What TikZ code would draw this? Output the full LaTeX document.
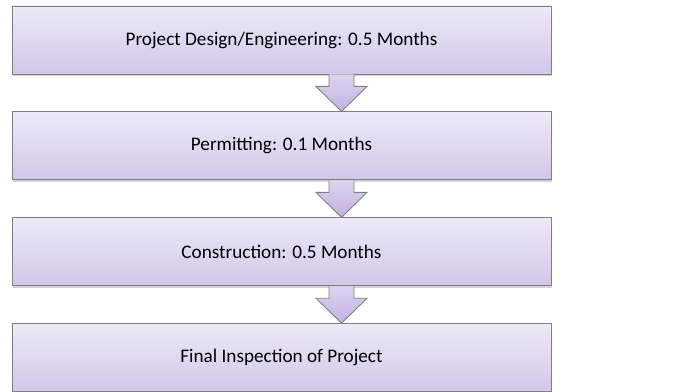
\documentclass[tikz,border=0pt]{standalone}
\usepackage{fontspec}
\setmainfont{Carlito}
\usetikzlibrary{positioning,calc,shadows}

\definecolor{lavtop}{HTML}{EEE9F7}
\definecolor{lavbot}{HTML}{D3C6EA}
\definecolor{arrtop}{HTML}{DDD3F0}
\definecolor{arrbot}{HTML}{C3B1E2}
\definecolor{edgegray}{HTML}{7F7F7F}

\tikzset{
  stage/.style={draw=edgegray, line width=0.9pt, top color=lavtop, bottom color=lavbot,
    minimum width=539pt, minimum height=68pt, inner sep=0pt,
    font=\fontsize{19.2}{23}\selectfont,
    drop shadow={shadow xshift=0.5pt, shadow yshift=-2.5pt, opacity=0.35}},
  flow/.style={draw=edgegray, line width=0.9pt, top color=arrtop, bottom color=arrbot}
}

% block arrow from one stage down to the next
\newcommand{\flowarrow}[2]{%
  \draw[flow] let \p1=(#1.south), \p2=(#2.north) in
    ({\x1+47.5pt},{\y1}) -- ({\x1+47.5pt},{\y2+25pt}) -- ({\x1+34.5pt},{\y2+25pt})
    -- ({\x1+60pt},{\y2}) -- ({\x1+85.5pt},{\y2+25pt}) -- ({\x1+72.5pt},{\y2+25pt})
    -- ({\x1+72.5pt},{\y1});}

\begin{document}
\begin{tikzpicture}[x=1pt, y=1pt, node distance=37pt]
    \useasboundingbox (0,0) rectangle (676,391);
    \node[stage] (design) at (281.5,351) {Project Design/Engineering: 0.5 Months};
    \node[stage, below=of design] (permit) {Permitting: 0.1 Months};
    \node[stage, below=of permit] (build) {Construction: 0.5 Months};
    \node[stage, below=of build] (final) {Final Inspection of Project};

    \flowarrow{design}{permit}
    \flowarrow{permit}{build}
    \flowarrow{build}{final}
\end{tikzpicture}
\end{document}
